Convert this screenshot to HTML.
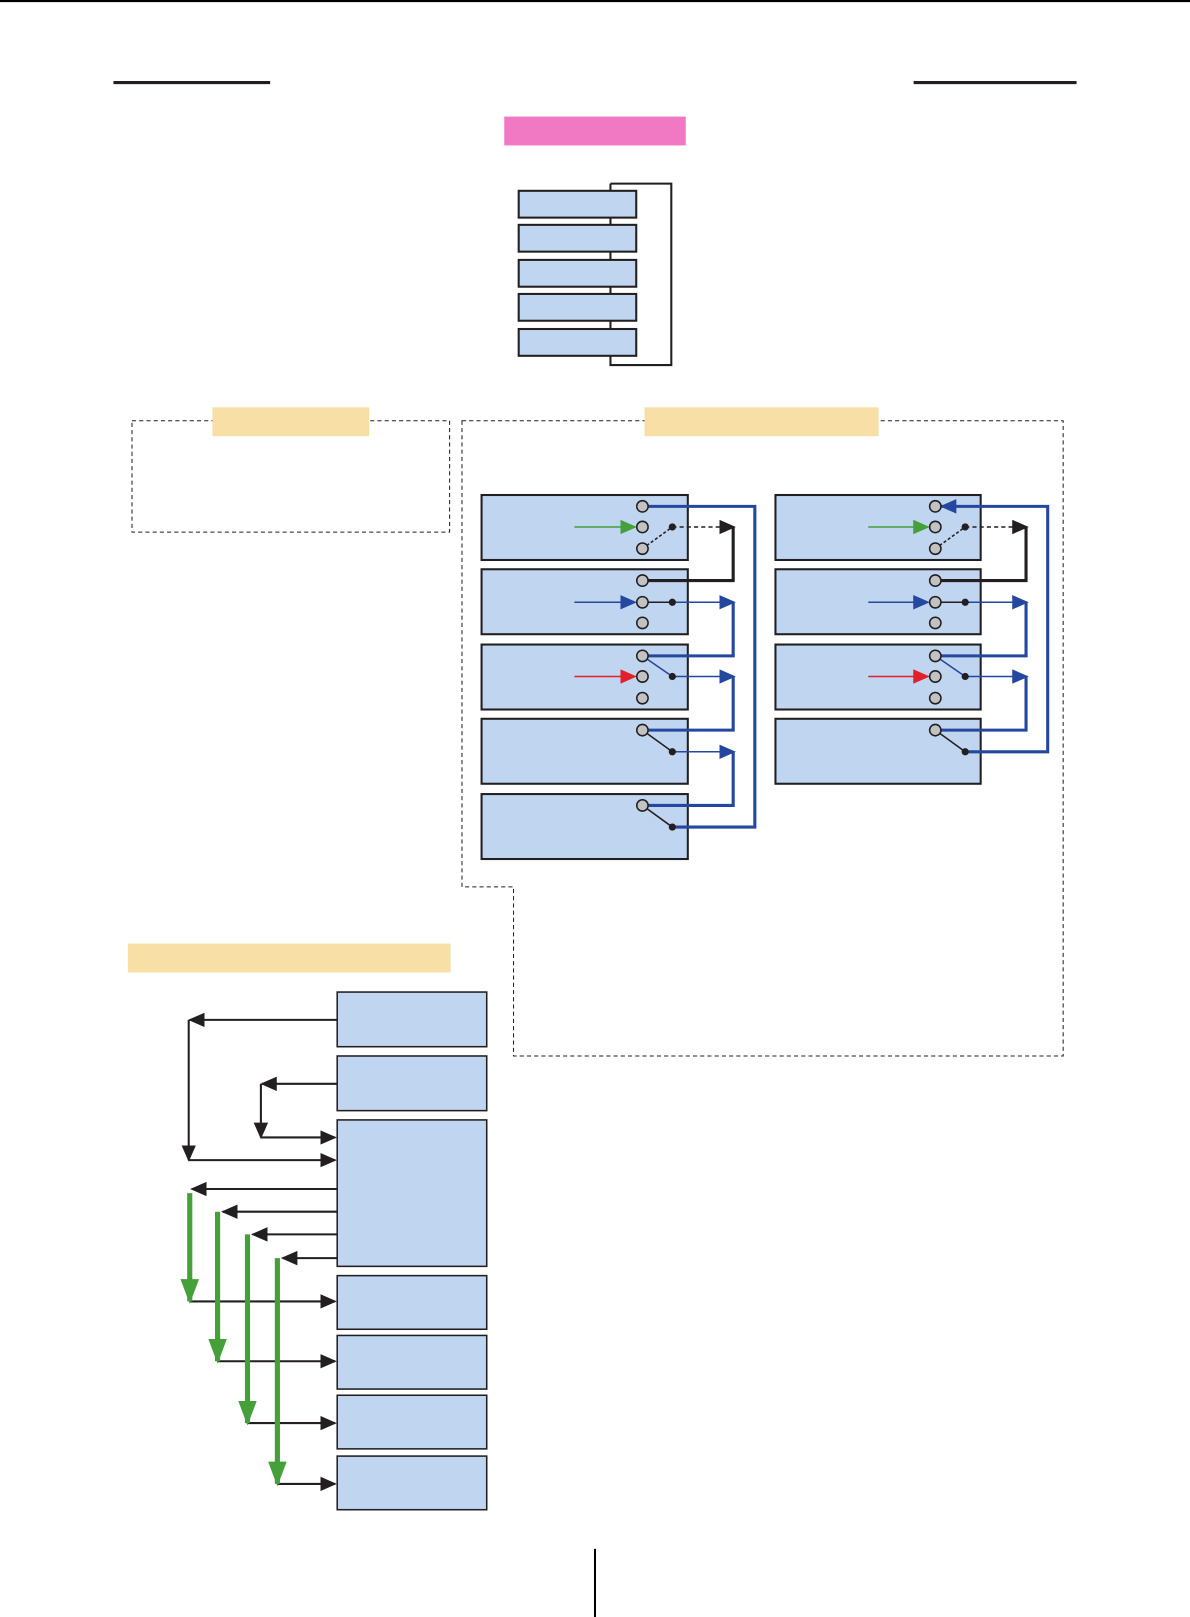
<!DOCTYPE html>
<html><head><style>html,body{margin:0;padding:0;background:#fff}svg{display:block}</style></head>
<body>
<svg width="1190" height="1617" viewBox="0 0 1154 1568" xmlns="http://www.w3.org/2000/svg">
<defs>
<marker id="ak" viewBox="0 0 10 10" refX="9" refY="5" markerWidth="5" markerHeight="5" orient="auto" markerUnits="userSpaceOnUse"><path d="M0,0L10,5L0,10z" fill="#231f20"/></marker>
<marker id="akb" viewBox="0 0 10 10" refX="9" refY="5" markerWidth="16" markerHeight="14" orient="auto" markerUnits="userSpaceOnUse" preserveAspectRatio="none"><path d="M0,0L10,5L0,10z" fill="#231f20"/></marker>
<marker id="ab" viewBox="0 0 10 10" refX="9" refY="5" markerWidth="16" markerHeight="14" orient="auto" markerUnits="userSpaceOnUse" preserveAspectRatio="none"><path d="M0,0L10,5L0,10z" fill="#2447a0"/></marker>
<marker id="ag" viewBox="0 0 10 10" refX="9" refY="5" markerWidth="16" markerHeight="14" orient="auto" markerUnits="userSpaceOnUse" preserveAspectRatio="none"><path d="M0,0L10,5L0,10z" fill="#46a03a"/></marker>
<marker id="ar" viewBox="0 0 10 10" refX="9" refY="5" markerWidth="16" markerHeight="14" orient="auto" markerUnits="userSpaceOnUse" preserveAspectRatio="none"><path d="M0,0L10,5L0,10z" fill="#e3202a"/></marker>
<marker id="agd" viewBox="0 0 10 10" refX="9" refY="5" markerWidth="24" markerHeight="18" orient="auto" markerUnits="userSpaceOnUse" preserveAspectRatio="none"><path d="M0,0L10,5L0,10z" fill="#46a03a"/></marker>
</defs>
<line x1="0" y1="1" x2="1154" y2="1" stroke="#000" stroke-width="2"/>
<line x1="110" y1="80" x2="262" y2="80" stroke="#231f20" stroke-width="3"/>
<line x1="886" y1="80" x2="1044" y2="80" stroke="#231f20" stroke-width="3"/>
<rect x="489" y="113" width="176" height="28" fill="#f178c3"/>
<path d="M592,178H651V354H592V178" fill="none" stroke="#231f20" stroke-width="2"/>
<g fill="#c0d5f0" stroke="#231f20" stroke-width="2">
<rect x="503" y="185" width="114" height="26"/><rect x="503" y="218" width="114" height="26"/><rect x="503" y="252" width="114" height="26"/><rect x="503" y="285" width="114" height="26"/><rect x="503" y="319" width="114" height="26"/>
</g>
<g fill="none" stroke="#231f20" stroke-width="1" stroke-dasharray="4,3">
<rect x="128" y="408" width="308" height="108"/>
<path d="M448,408H1031V1024H498V860H448Z"/>
</g>
<rect x="206" y="395" width="152" height="28" fill="#f7dfa6"/>
<rect x="625" y="395" width="227" height="28" fill="#f7dfa6"/>
<rect x="124" y="915" width="313" height="28" fill="#f7dfa6"/>
<g fill="#c0d5f0" stroke="#231f20" stroke-width="2">
<rect x="467" y="480" width="200" height="63"/><rect x="467" y="552" width="200" height="63"/><rect x="467" y="625" width="200" height="63"/><rect x="467" y="697" width="200" height="63"/><rect x="467" y="770" width="200" height="63"/>
<rect x="752" y="480" width="199" height="63"/><rect x="752" y="552" width="199" height="63"/><rect x="752" y="625" width="199" height="63"/><rect x="752" y="697" width="199" height="63"/>
</g>
<!-- left panel -->
<g fill="none" stroke-linejoin="miter">
<line x1="557" y1="511" x2="616" y2="511" stroke="#46a03a" stroke-width="1.5" marker-end="url(#ag)"/>
<line x1="557" y1="584" x2="616" y2="584" stroke="#2447a0" stroke-width="1.5" marker-end="url(#ab)"/>
<line x1="557" y1="656" x2="616" y2="656" stroke="#e3202a" stroke-width="1.5" marker-end="url(#ar)"/>
<line x1="623" y1="532" x2="652" y2="511" stroke="#231f20" stroke-width="1.5" stroke-dasharray="3,2"/>
<line x1="652" y1="511" x2="712" y2="511" stroke="#231f20" stroke-width="1.5" stroke-dasharray="4,3" marker-end="url(#akb)"/>
<path d="M711,511V563H623" stroke="#231f20" stroke-width="3"/>
<line x1="623" y1="584" x2="652" y2="584" stroke="#231f20" stroke-width="1.5"/>
<line x1="652" y1="584" x2="712" y2="584" stroke="#2447a0" stroke-width="1.5" marker-end="url(#ab)"/>
<path d="M711,584V636H623" stroke="#2447a0" stroke-width="3"/>
<line x1="623" y1="636" x2="652" y2="656" stroke="#2447a0" stroke-width="1.5"/>
<line x1="652" y1="656" x2="712" y2="656" stroke="#2447a0" stroke-width="1.5" marker-end="url(#ab)"/>
<path d="M711,656V708H623" stroke="#2447a0" stroke-width="3"/>
<line x1="623" y1="708" x2="652" y2="729" stroke="#231f20" stroke-width="1.5"/>
<line x1="652" y1="729" x2="712" y2="729" stroke="#2447a0" stroke-width="1.5" marker-end="url(#ab)"/>
<path d="M711,729V781H623" stroke="#2447a0" stroke-width="3"/>
<line x1="623" y1="781" x2="652" y2="802" stroke="#231f20" stroke-width="1.5"/>
<path d="M652,802H732V491H623" stroke="#2447a0" stroke-width="3"/>
</g>
<!-- right panel -->
<g fill="none">
<line x1="842" y1="511" x2="900" y2="511" stroke="#46a03a" stroke-width="1.5" marker-end="url(#ag)"/>
<line x1="842" y1="584" x2="900" y2="584" stroke="#2447a0" stroke-width="1.5" marker-end="url(#ab)"/>
<line x1="842" y1="656" x2="900" y2="656" stroke="#e3202a" stroke-width="1.5" marker-end="url(#ar)"/>
<line x1="907" y1="532" x2="936" y2="511" stroke="#231f20" stroke-width="1.5" stroke-dasharray="3,2"/>
<line x1="936" y1="511" x2="996" y2="511" stroke="#231f20" stroke-width="1.5" stroke-dasharray="4,3" marker-end="url(#akb)"/>
<path d="M995,511V563H907" stroke="#231f20" stroke-width="3"/>
<line x1="907" y1="584" x2="936" y2="584" stroke="#231f20" stroke-width="1.5"/>
<line x1="936" y1="584" x2="996" y2="584" stroke="#2447a0" stroke-width="1.5" marker-end="url(#ab)"/>
<path d="M995,584V636H907" stroke="#2447a0" stroke-width="3"/>
<line x1="907" y1="636" x2="936" y2="656" stroke="#2447a0" stroke-width="1.5"/>
<line x1="936" y1="656" x2="996" y2="656" stroke="#2447a0" stroke-width="1.5" marker-end="url(#ab)"/>
<path d="M995,656V708H907" stroke="#2447a0" stroke-width="3"/>
<line x1="907" y1="708" x2="936" y2="729" stroke="#231f20" stroke-width="1.5"/>
<path d="M936,729H1016V491H913" stroke="#2447a0" stroke-width="3" marker-end="url(#ab)"/>
</g>
<g fill="#c2c2c2" stroke="#231f20" stroke-width="1.5">
<circle cx="623" cy="491" r="5.5"/><circle cx="623" cy="511" r="5.5"/><circle cx="623" cy="532" r="5.5"/>
<circle cx="623" cy="563" r="5.5"/><circle cx="623" cy="584" r="5.5"/><circle cx="623" cy="604" r="5.5"/>
<circle cx="623" cy="636" r="5.5"/><circle cx="623" cy="656" r="5.5"/><circle cx="623" cy="677" r="5.5"/>
<circle cx="623" cy="708" r="5.5"/><circle cx="623" cy="781" r="5.5"/>
<circle cx="907" cy="491" r="5.5"/><circle cx="907" cy="511" r="5.5"/><circle cx="907" cy="532" r="5.5"/>
<circle cx="907" cy="563" r="5.5"/><circle cx="907" cy="584" r="5.5"/><circle cx="907" cy="604" r="5.5"/>
<circle cx="907" cy="636" r="5.5"/><circle cx="907" cy="656" r="5.5"/><circle cx="907" cy="677" r="5.5"/>
<circle cx="907" cy="708" r="5.5"/>
</g>
<g fill="#231f20">
<circle cx="652" cy="511" r="3.5"/><circle cx="652" cy="584" r="3.5"/><circle cx="652" cy="656" r="3.5"/><circle cx="652" cy="729" r="3.5"/><circle cx="652" cy="802" r="3.5"/>
<circle cx="936" cy="511" r="3.5"/><circle cx="936" cy="584" r="3.5"/><circle cx="936" cy="656" r="3.5"/><circle cx="936" cy="729" r="3.5"/>
</g>
<!-- bottom section -->
<g fill="#c0d5f0" stroke="#231f20" stroke-width="1.5">
<rect x="327" y="962" width="145" height="53"/><rect x="327" y="1024" width="145" height="53"/><rect x="327" y="1086" width="145" height="142"/>
<rect x="327" y="1237" width="145" height="52"/><rect x="327" y="1295" width="145" height="52"/><rect x="327" y="1353" width="145" height="52"/><rect x="327" y="1412" width="145" height="52"/>
</g>
<g fill="none" stroke="#231f20" stroke-width="2">
<line x1="327" y1="989" x2="184" y2="989" marker-end="url(#akb)"/>
<line x1="183" y1="989" x2="183" y2="1125" marker-end="url(#akb)"/>
<line x1="183" y1="1125" x2="325" y2="1125" marker-end="url(#akb)"/>
<line x1="327" y1="1051" x2="254" y2="1051" marker-end="url(#akb)"/>
<line x1="253" y1="1051" x2="253" y2="1103" marker-end="url(#akb)"/>
<line x1="253" y1="1103" x2="325" y2="1103" marker-end="url(#akb)"/>
<line x1="327" y1="1153" x2="186" y2="1153" marker-end="url(#akb)"/>
<line x1="327" y1="1175" x2="216" y2="1175" marker-end="url(#akb)"/>
<line x1="327" y1="1197" x2="245" y2="1197" marker-end="url(#akb)"/>
<line x1="327" y1="1220" x2="274" y2="1220" marker-end="url(#akb)"/>
<line x1="184" y1="1262" x2="325" y2="1262" marker-end="url(#akb)"/>
<line x1="211" y1="1320" x2="325" y2="1320" marker-end="url(#akb)"/>
<line x1="240" y1="1380" x2="325" y2="1380" marker-end="url(#akb)"/>
<line x1="269" y1="1439" x2="325" y2="1439" marker-end="url(#akb)"/>
</g>
<g stroke="#46a03a" stroke-width="5">
<line x1="184" y1="1157" x2="184" y2="1262" marker-end="url(#agd)"/>
<line x1="211" y1="1175" x2="211" y2="1320" marker-end="url(#agd)"/>
<line x1="240" y1="1197" x2="240" y2="1380" marker-end="url(#agd)"/>
<line x1="269" y1="1220" x2="269" y2="1439" marker-end="url(#agd)"/>
</g>
<line x1="577" y1="1502" x2="577" y2="1568" stroke="#000" stroke-width="2"/>
</svg>
</body></html>
